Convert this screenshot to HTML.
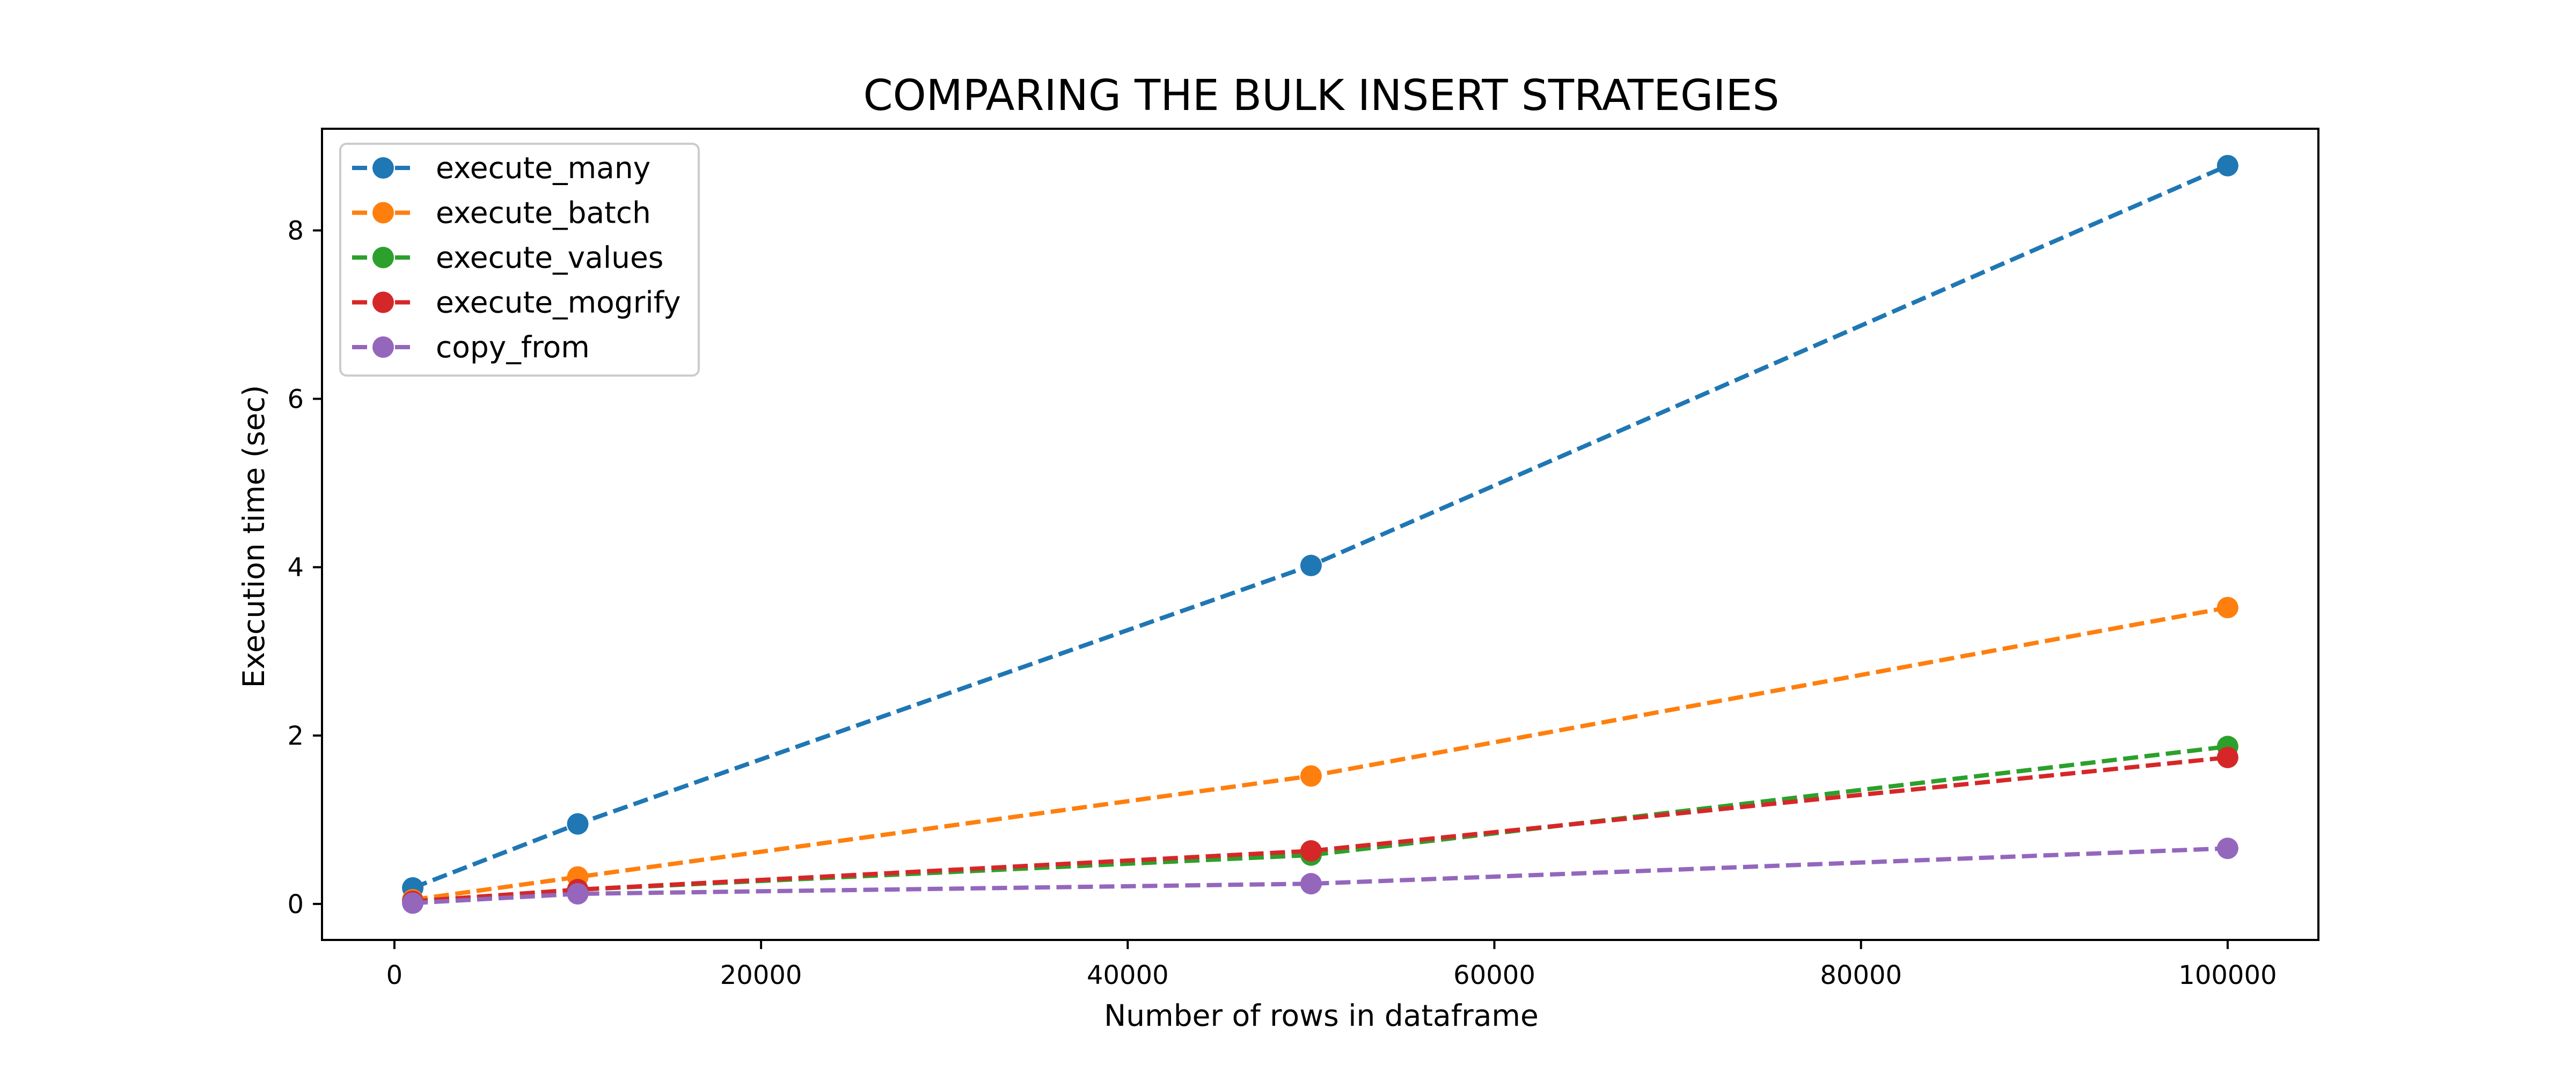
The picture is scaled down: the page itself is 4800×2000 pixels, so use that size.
<!DOCTYPE html>
<html><head><meta charset="utf-8"><style>
html,body{margin:0;padding:0;background:#fff;}
svg{display:block;font-family:"DejaVu Sans","Liberation Sans",sans-serif;}
</style></head><body>
<svg id="chart" width="4800" height="2000" viewBox="0 0 4800 2000" xmlns="http://www.w3.org/2000/svg">
<rect width="4800" height="2000" fill="#fff"/>
<text x="2462" y="205" font-size="79" text-anchor="middle">COMPARING THE BULK INSERT STRATEGIES</text>
<g id="plot"></g>
<g id="axes"></g>
<text x="2462" y="1912" font-size="55" text-anchor="middle">Number of rows in dataframe</text>
<text transform="translate(492,1000) rotate(-90)" font-size="55" text-anchor="middle">Execution time (sec)</text>
<g id="legend"></g>
</svg>
<script>
const xValues = [1000, 10000, 50000, 100000];
const seriesNames = ["execute_many","execute_batch","execute_values","execute_mogrify","copy_from"];
const seriesColors = ["#1f77b4","#ff7f0e","#2ca02c","#d62728","#9467bd"];
const executeMany = [0.19, 0.95, 4.02, 8.77];
const executeBatch = [0.05, 0.32, 1.52, 3.52];
const executeValues = [0.03, 0.17, 0.58, 1.87];
const executeMogrify = [0.03, 0.17, 0.63, 1.74];
const copyFrom = [0.01, 0.12, 0.24, 0.66];
const xTicks = [0, 20000, 40000, 60000, 80000, 100000];
const yTicks = [0, 2, 4, 6, 8];

const allSeries = [executeMany, executeBatch, executeValues, executeMogrify, copyFrom];
const L=600,R=4320,T=240,B=1752;
const NS="http://www.w3.org/2000/svg";
function mk(tag,attrs,parent){const e=document.createElementNS(NS,tag);for(const k in attrs)e.setAttribute(k,attrs[k]);parent.appendChild(e);return e;}
const xmin0=Math.min(...xValues), xmax0=Math.max(...xValues);
const xpad=(xmax0-xmin0)*0.05, xmin=xmin0-xpad, xmax=xmax0+xpad;
const allY=allSeries.flat();
const ymin0=Math.min(...allY), ymax0=Math.max(...allY);
const ypad=(ymax0-ymin0)*0.05, ymin=ymin0-ypad, ymax=ymax0+ypad;
const sx=v=>L+(v-xmin)/(xmax-xmin)*(R-L);
const sy=v=>B-(v-ymin)/(ymax-ymin)*(B-T);

const plot=document.getElementById('plot');
allSeries.forEach((s,i)=>{
  const g=mk('g',{},plot);
  
  
  const pl=mk('polyline',{points:s.map((v,j)=>sx(xValues[j])+','+sy(v)).join(' '),fill:'none',stroke:seriesColors[i],'stroke-width':8,'stroke-dasharray':'28,12'},g);
  
  
  s.forEach((v,j)=>{
    const c=mk('circle',{cx:sx(xValues[j]),cy:sy(v),r:20,fill:seriesColors[i]},g);
    
    
  });
});

const axes=document.getElementById('axes');
const fr=mk('rect',{x:L,y:T,width:R-L,height:B-T,fill:'none',stroke:'#000','stroke-width':4},axes);


xTicks.forEach(t=>{
  const x=sx(t);
  mk('line',{x1:x,x2:x,y1:B,y2:B+17,stroke:'#000','stroke-width':4},axes);
  const tx=mk('text',{x:x,y:B+82,'font-size':48,'text-anchor':'middle'},axes);
  tx.textContent=t;
  
  
});
yTicks.forEach(t=>{
  const y=sy(t);
  mk('line',{x1:L-17,x2:L,y1:y,y2:y,stroke:'#000','stroke-width':4},axes);
  const tx=mk('text',{x:L-34,y:y+17,'font-size':48,'text-anchor':'end'},axes);
  tx.textContent=t;
  
  
});

const lg=document.getElementById('legend');
mk('rect',{x:634,y:268,width:668,height:432,rx:12,fill:'#fff','fill-opacity':0.8,stroke:'#ccc','stroke-width':4},lg);
seriesNames.forEach((n,i)=>{
  const y=313+i*83.5;
  const g=mk('g',{},lg);
  
  
  mk('line',{x1:656,x2:773,y1:y,y2:y,stroke:seriesColors[i],'stroke-width':8,'stroke-dasharray':'28,12'},g);
  mk('circle',{cx:714,cy:y,r:20,fill:seriesColors[i]},g);
  const t=mk('text',{x:812,y:y+19,'font-size':55},g);
  t.textContent=n;
});
</script>
</body></html>
